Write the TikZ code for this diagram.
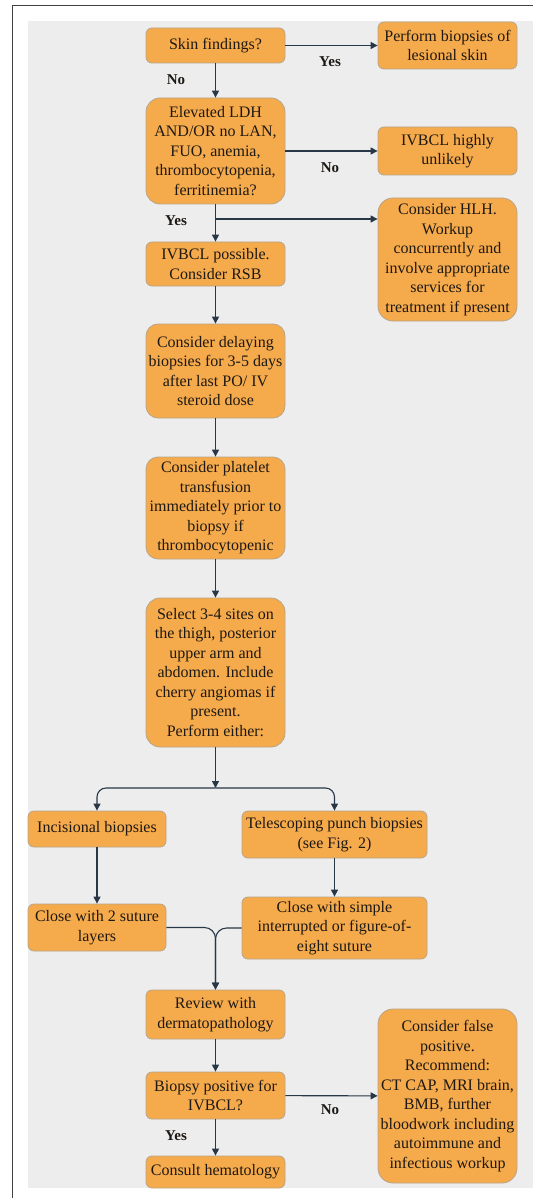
\documentclass[tikz,border=0pt]{standalone}
\usepackage{fontspec}
\setmainfont{Liberation Serif}
\usetikzlibrary{arrows.meta}
\definecolor{boxfill}{RGB}{245,170,75}
\definecolor{boxline}{RGB}{185,165,135}
\definecolor{arrowcol}{RGB}{40,55,70}
\definecolor{panel}{RGB}{237,237,237}
\definecolor{textcol}{RGB}{30,25,20}
\begin{document}
\begin{tikzpicture}[x=1pt,y=-1pt,
 box/.style={draw=boxline,fill=boxfill,rounded corners=6pt,align=center,inner sep=1pt,line width=0.8pt,
  text=textcol,font=\fontsize{16}{19.5}\selectfont,minimum width=139pt},
 flow/.style={draw=arrowcol,line width=1.1pt,-{Triangle[length=7pt,width=7pt]}},
 lbl/.style={text=textcol,font=\bfseries\fontsize{15}{18}\selectfont}]
 \useasboundingbox (0,0) rectangle (533,1198);
 \fill[white] (0,0) rectangle (533,1198);
 \fill[panel] (28,21) rectangle (533,1188);
 \draw[black!75,line width=1.3pt] (12.5,1198) -- (12.5,5.5) -- (533,5.5);
 \node[box,minimum height=35pt] (skin) at (215.5,45.5) {Skin findings?};
 \node[box,minimum height=47pt] (lesion) at (447.5,45.5) {Perform biopsies of\\lesional skin};
 \node[box,minimum height=106pt,rounded corners=14pt] (ldh) at (215.5,151) {Elevated LDH\\AND/OR no LAN,\\FUO, anemia,\\thrombocytopenia,\\ferritinemia?};
 \node[box,minimum height=48pt] (unlikely) at (447.5,151) {IVBCL highly\\unlikely};
 \node[box,minimum height=123pt,rounded corners=15pt] (hlh) at (447.5,259.5) {Consider HLH.\\Workup\\concurrently and\\involve appropriate\\services for\\treatment if present};
 \node[box,minimum height=44pt] (possible) at (215.5,264) {IVBCL possible.\\Consider RSB};
 \node[box,minimum height=94pt,rounded corners=12pt] (delay) at (215.5,371) {Consider delaying\\biopsies for 3-5 days\\after last PO/ IV\\steroid dose};
 \node[box,minimum height=102pt,rounded corners=12pt] (platelet) at (215.5,508) {Consider platelet\\transfusion\\immediately prior to\\biopsy if\\thrombocytopenic};
 \node[box,minimum height=149pt,rounded corners=14pt] (select) at (215.5,672.5) {Select 3-4 sites on\\the thigh, posterior\\upper arm and\\abdomen. Include\\cherry angiomas if\\present.\\Perform either:};
 \node[box,minimum height=36pt,minimum width=138pt] (incis) at (97,829) {Incisional biopsies};
 \node[box,minimum height=47pt,minimum width=185pt] (tele) at (334.5,834.5) {Telescoping punch biopsies\\(see Fig. 2)};
 \node[box,minimum height=47pt,minimum width=138pt] (close2) at (97,927.5) {Close with 2 suture\\layers};
 \node[box,minimum height=62pt,minimum width=185pt] (closes) at (334.5,928) {Close with simple\\interrupted or figure-of-\\eight suture};
 \node[box,minimum height=49pt] (review) at (215.5,1014.5) {Review with\\dermatopathology};
 \node[box,minimum height=47pt] (positive) at (215.5,1095.5) {Biopsy positive for\\IVBCL?};
 \node[box,minimum height=174pt,rounded corners=15pt] (falsepos) at (447.5,1096) {Consider false\\positive.\\Recommend:\\CT CAP, MRI brain,\\BMB, further\\bloodwork including\\autoimmune and\\infectious workup};
 \node[box,minimum height=32pt] (hema) at (215.5,1172) {Consult hematology};
 \coordinate (hlhsplit) at (215.5,219);
 \coordinate (fork) at (215.5,788);
 \draw[flow] (skin) -- (lesion);
 \draw[flow] (skin) -- (ldh);
 \draw[flow] (ldh) -- (unlikely);
 \draw[flow] (ldh) -- (possible);
 \draw[flow] (hlhsplit) -- (hlhsplit -| hlh.west);
 \draw[flow] (possible) -- (delay);
 \draw[flow] (delay) -- (platelet);
 \draw[flow] (platelet) -- (select);
 \draw[flow] (select) -- (fork);
 \draw[flow,rounded corners=9pt] (fork) -| (incis.north);
 \draw[flow,rounded corners=9pt] (fork) -| (tele.north);
 \draw[flow] (incis) -- (close2);
 \draw[flow] (tele) -- (closes);
 \draw[flow,rounded corners=11pt] (close2.east) -| (review.north);
 \draw[flow,rounded corners=11pt] (closes.west) -| (review.north);
 \draw[flow] (review) -- (positive);
 \draw[flow] (positive) -- (falsepos);
 \draw[flow] (positive) -- (hema);
 \node[lbl] (yes1) at (330,62) {Yes};
 \node[lbl] (no1) at (176,80) {No};
 \node[lbl] (no2) at (330,168) {No};
 \node[lbl] (yes2) at (176,221) {Yes};
 \node[lbl] (no3) at (330,1110) {No};
 \node[lbl] (yes3) at (176,1136) {Yes};
\end{tikzpicture}
\end{document}
